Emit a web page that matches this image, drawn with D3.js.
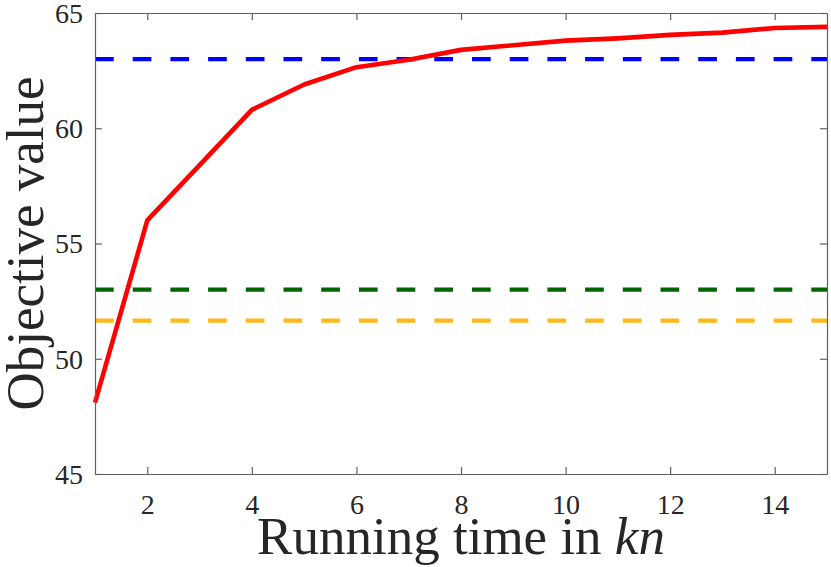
<!DOCTYPE html>
<html>
<head>
<meta charset="utf-8">
<script src="https://cdn.jsdelivr.net/npm/d3@7"></script>
<style>
  html, body { margin: 0; padding: 0; background: #fff; }
  svg { display: block; font-family: "Liberation Serif", "Times New Roman", serif; }
</style>
</head>
<body>
<div id="chart"></div>
<script>
// running time (in kn) and objective value of the red curve
const times = [1, 2, 3, 4, 5, 6, 7, 8, 9, 10, 11, 12, 13, 14, 15];
const objective = [48.1, 56.0, 58.4, 60.8, 61.9, 62.65, 62.97, 63.4, 63.6, 63.8, 63.9, 64.05, 64.15, 64.35, 64.4];

// horizontal reference levels
const refNames = ["blue", "green", "orange"];
const refValues = [63.0, 53.0, 51.65];
const refColors = ["#0000ff", "#006400", "#ffb81c"];

const xTicks = [2, 4, 6, 8, 10, 12, 14];
const yTicks = [45, 50, 55, 60, 65];

const W = 831, H = 567;
const margin = { top: 13, right: 4, bottom: 93, left: 95 };
const width = W - margin.left - margin.right,
      height = H - margin.top - margin.bottom;

const svg = d3.select("#chart")
    .append("svg")
    .attr("width", W)
    .attr("height", H);

const chart = svg.append("g")
    .attr("transform", `translate(${margin.left},${margin.top})`);

const x = d3.scaleLinear().domain([1, 15]).range([0, width]);
const y = d3.scaleLinear().domain([45, 65]).range([height, 0]);

const axisColor = "#606060";
const textColor = "#262626";
const tickLen = 7;

// dashed reference lines
chart.selectAll(".ref")
    .data(refValues)
    .enter()
    .append("line")
    .attr("class", "ref")
    .attr("x1", x(1))
    .attr("x2", x(15))
    .attr("y1", d => y(d))
    .attr("y2", d => y(d))
    .attr("stroke", (d, i) => refColors[i])
    .attr("stroke-width", 4.3)
    .attr("stroke-dasharray", "18.7 19");

// red curve
const line = d3.line()
    .x((d, i) => x(times[i]))
    .y(d => y(d));

chart.append("path")
    .datum(objective)
    .attr("fill", "none")
    .attr("stroke", "#ff0000")
    .attr("stroke-width", 4.6)
    .attr("stroke-linejoin", "round")
    .attr("d", line);

// box with inward ticks on all sides
const bottomAxis = chart.append("g")
    .attr("transform", `translate(0,${height})`)
    .call(d3.axisBottom(x).tickValues(xTicks).tickSize(-tickLen).tickPadding(13).tickSizeOuter(0));
const topAxis = chart.append("g")
    .call(d3.axisTop(x).tickValues(xTicks).tickSize(-tickLen).tickFormat("").tickSizeOuter(0));
const leftAxis = chart.append("g")
    .call(d3.axisLeft(y).tickValues(yTicks).tickSize(-tickLen).tickPadding(12).tickSizeOuter(0));
const rightAxis = chart.append("g")
    .attr("transform", `translate(${width},0)`)
    .call(d3.axisRight(y).tickValues(yTicks).tickSize(-tickLen).tickFormat("").tickSizeOuter(0));

[bottomAxis, topAxis, leftAxis, rightAxis].forEach(g => {
    g.select(".domain").attr("stroke", axisColor).attr("stroke-width", 1.2);
    g.selectAll(".tick line").attr("stroke", axisColor).attr("stroke-width", 1.2);
    g.selectAll("text")
        .attr("fill", textColor)
        .style("font-family", "'Liberation Serif', 'Times New Roman', serif")
        .style("font-size", "28px");
});

bottomAxis.selectAll("text").attr("dy", "0.71em").attr("y", 20);
leftAxis.selectAll("text").attr("dy", "0.33em");

// axis titles
const xLabel = svg.append("text")
    .attr("x", margin.left + width / 2)
    .attr("y", 554)
    .attr("text-anchor", "middle")
    .attr("fill", textColor)
    .style("font-size", "53px");
xLabel.append("tspan").text("Running time in ");
xLabel.append("tspan").style("font-style", "italic").text("kn");

svg.append("text")
    .attr("transform", `translate(43,${margin.top + height / 2}) rotate(-90)`)
    .attr("text-anchor", "middle")
    .attr("fill", textColor)
    .style("font-size", "53px")
    .text("Objective value");
</script>
</body>
</html>
